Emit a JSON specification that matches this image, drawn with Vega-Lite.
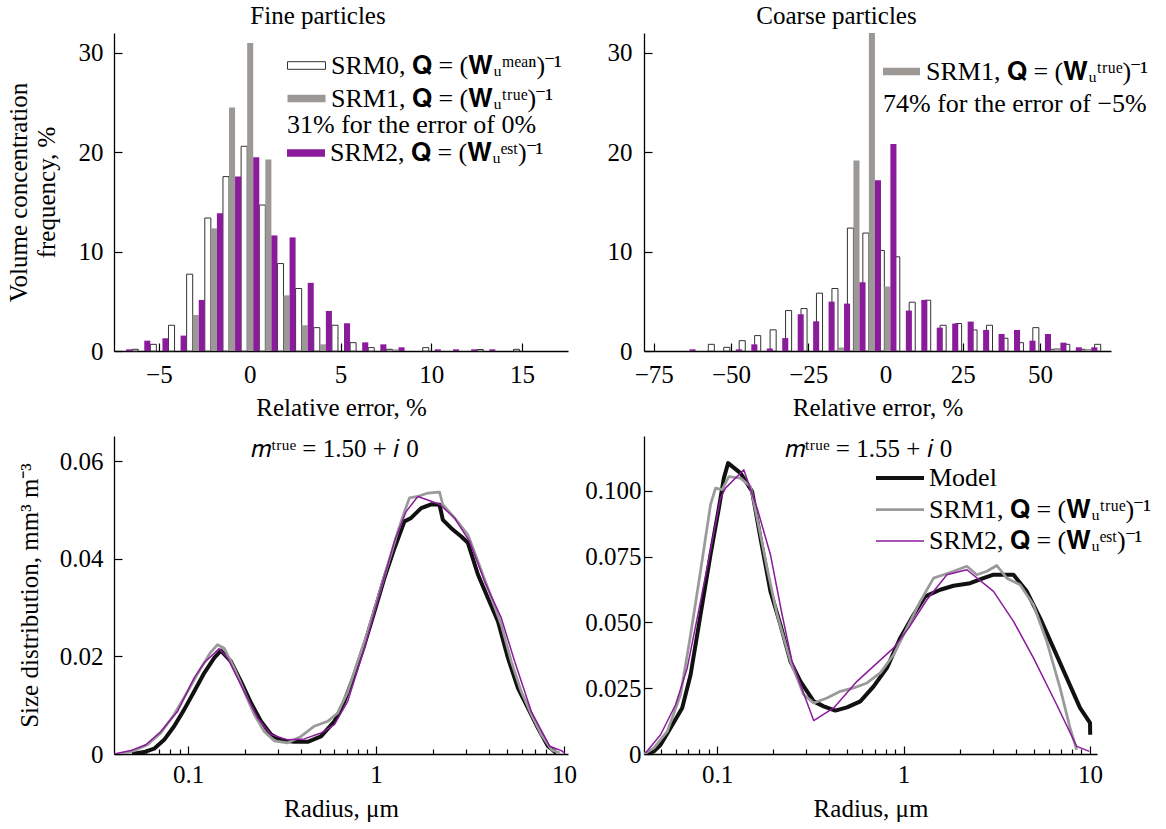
{
  "$schema": "https://vega.github.io/schema/vega-lite/v6.json",
  "background": "white",
  "padding": {"left": 6, "top": 4, "right": 5, "bottom": 5},
  "config": {
    "font": "Liberation Serif",
    "view": {"stroke": null},
    "axis": {"grid": false, "domainColor": "#000000", "domainWidth": 1.3, "tickColor": "#000000", "tickWidth": 1.2, "labelColor": "#000000", "titleColor": "#000000", "labelFont": "Liberation Serif", "titleFont": "Liberation Serif", "labelFontSize": 25, "titleFontSize": 25, "titleFontWeight": "normal", "labelAngle": 0, "labelOverlap": false},
    "legend": {"labelFont": "Liberation Serif", "labelFontSize": 26, "titleFont": "Liberation Serif", "titleFontSize": 26, "titleFontWeight": "normal", "labelColor": "#000000", "titleColor": "#000000", "padding": 0, "labelLimit": 500, "titleLimit": 500},
    "title": {"font": "Liberation Serif", "fontSize": 25, "fontWeight": "normal", "color": "#000000"}
  },
  "datasets": {
    "fine": [
      {"err": -6, "series": "SRM0", "freq": 0.17}, {"err": -5, "series": "SRM0", "freq": 0.67}, {"err": -4, "series": "SRM0", "freq": 2.59}, {"err": -3, "series": "SRM0", "freq": 7.73}, {"err": -2, "series": "SRM0", "freq": 13.38}, {"err": -1, "series": "SRM0", "freq": 17.55}, {"err": 0, "series": "SRM0", "freq": 20.6}, {"err": 1, "series": "SRM0", "freq": 14.69}, {"err": 2, "series": "SRM0", "freq": 8.8}, {"err": 3, "series": "SRM0", "freq": 6.29}, {"err": 4, "series": "SRM0", "freq": 2.35}, {"err": 5, "series": "SRM0", "freq": 2.59}, {"err": 6, "series": "SRM0", "freq": 0.84}, {"err": 7, "series": "SRM0", "freq": 0.34}, {"err": 8, "series": "SRM0", "freq": 0.17}, {"err": 10, "series": "SRM0", "freq": 0.34}, {"err": 13, "series": "SRM0", "freq": 0.15}, {"err": 15, "series": "SRM0", "freq": 0.17},
      {"err": -3, "series": "SRM1", "freq": 3.63}, {"err": -2, "series": "SRM1", "freq": 12.34}, {"err": -1, "series": "SRM1", "freq": 24.5}, {"err": 0, "series": "SRM1", "freq": 31.0}, {"err": 1, "series": "SRM1", "freq": 19.26}, {"err": 2, "series": "SRM1", "freq": 5.6}, {"err": 3, "series": "SRM1", "freq": 2.59}, {"err": 4, "series": "SRM1", "freq": 0.67}, {"err": 8, "series": "SRM1", "freq": 0.17},
      {"err": -7, "series": "SRM2", "freq": 0.17}, {"err": -6, "series": "SRM2", "freq": 1.04}, {"err": -5, "series": "SRM2", "freq": 1.28}, {"err": -4, "series": "SRM2", "freq": 1.55}, {"err": -3, "series": "SRM2", "freq": 5.14}, {"err": -2, "series": "SRM2", "freq": 13.85}, {"err": -1, "series": "SRM2", "freq": 17.55}, {"err": 0, "series": "SRM2", "freq": 19.5}, {"err": 1, "series": "SRM2", "freq": 11.63}, {"err": 2, "series": "SRM2", "freq": 11.43}, {"err": 3, "series": "SRM2", "freq": 6.86}, {"err": 4, "series": "SRM2", "freq": 4.03}, {"err": 5, "series": "SRM2", "freq": 2.79}, {"err": 6, "series": "SRM2", "freq": 0.87}, {"err": 7, "series": "SRM2", "freq": 0.67}, {"err": 8, "series": "SRM2", "freq": 0.37}, {"err": 10, "series": "SRM2", "freq": 0.17}, {"err": 11, "series": "SRM2", "freq": 0.17}, {"err": 12, "series": "SRM2", "freq": 0.17}, {"err": 13, "series": "SRM2", "freq": 0.17}
    ],
    "coarse": [
      {"err": -55, "series": "SRM0", "freq": 0.67}, {"err": -50, "series": "SRM0", "freq": 0.37}, {"err": -45, "series": "SRM0", "freq": 1.04}, {"err": -40, "series": "SRM0", "freq": 1.55}, {"err": -35, "series": "SRM0", "freq": 2.13}, {"err": -30, "series": "SRM0", "freq": 4.07}, {"err": -25, "series": "SRM0", "freq": 4.27}, {"err": -20, "series": "SRM0", "freq": 5.82}, {"err": -15, "series": "SRM0", "freq": 6.29}, {"err": -10, "series": "SRM0", "freq": 12.37}, {"err": -5, "series": "SRM0", "freq": 11.87}, {"err": 0, "series": "SRM0", "freq": 10.12}, {"err": 5, "series": "SRM0", "freq": 9.48}, {"err": 10, "series": "SRM0", "freq": 4.91}, {"err": 15, "series": "SRM0", "freq": 5.11}, {"err": 20, "series": "SRM0", "freq": 2.59}, {"err": 25, "series": "SRM0", "freq": 2.76}, {"err": 30, "series": "SRM0", "freq": 2.12}, {"err": 35, "series": "SRM0", "freq": 2.59}, {"err": 40, "series": "SRM0", "freq": 1.28}, {"err": 45, "series": "SRM0", "freq": 0.84}, {"err": 50, "series": "SRM0", "freq": 2.35}, {"err": 55, "series": "SRM0", "freq": 0.17}, {"err": 60, "series": "SRM0", "freq": 0.67}, {"err": 65, "series": "SRM0", "freq": 0.17}, {"err": 70, "series": "SRM0", "freq": 0.67},
      {"err": -15, "series": "SRM1", "freq": 0.35}, {"err": -10, "series": "SRM1", "freq": 19.16}, {"err": -5, "series": "SRM1", "freq": 74}, {"err": 0, "series": "SRM1", "freq": 6.49}, {"err": 55, "series": "SRM1", "freq": 0.3}, {"err": 65, "series": "SRM1", "freq": 0.2},
      {"err": -65, "series": "SRM2", "freq": 0.17}, {"err": -50, "series": "SRM2", "freq": 0.17}, {"err": -45, "series": "SRM2", "freq": 0.67}, {"err": -40, "series": "SRM2", "freq": 0.25}, {"err": -35, "series": "SRM2", "freq": 1.3}, {"err": -30, "series": "SRM2", "freq": 3.7}, {"err": -25, "series": "SRM2", "freq": 2.99}, {"err": -20, "series": "SRM2", "freq": 4.97}, {"err": -15, "series": "SRM2", "freq": 4.77}, {"err": -10, "series": "SRM2", "freq": 6.92}, {"err": -5, "series": "SRM2", "freq": 17.18}, {"err": 0, "series": "SRM2", "freq": 20.84}, {"err": 5, "series": "SRM2", "freq": 4.07}, {"err": 10, "series": "SRM2", "freq": 5.14}, {"err": 15, "series": "SRM2", "freq": 2.35}, {"err": 20, "series": "SRM2", "freq": 2.76}, {"err": 25, "series": "SRM2", "freq": 2.96}, {"err": 30, "series": "SRM2", "freq": 2.12}, {"err": 35, "series": "SRM2", "freq": 1.71}, {"err": 40, "series": "SRM2", "freq": 2.12}, {"err": 45, "series": "SRM2", "freq": 1.04}, {"err": 50, "series": "SRM2", "freq": 1.71}, {"err": 55, "series": "SRM2", "freq": 0.84}, {"err": 60, "series": "SRM2", "freq": 0.37}, {"err": 65, "series": "SRM2", "freq": 0.37}
    ],
    "psd_fine": [
      {"series": "Model", "r": 0.0505, "v": 0}, {"series": "Model", "r": 0.0583, "v": 0.0004}, {"series": "Model", "r": 0.0659, "v": 0.0011}, {"series": "Model", "r": 0.0745, "v": 0.0029}, {"series": "Model", "r": 0.0842, "v": 0.0057}, {"series": "Model", "r": 0.0952, "v": 0.0091}, {"series": "Model", "r": 0.1076, "v": 0.0128}, {"series": "Model", "r": 0.1217, "v": 0.0166}, {"series": "Model", "r": 0.1376, "v": 0.0197}, {"series": "Model", "r": 0.1493, "v": 0.0212}, {"series": "Model", "r": 0.1688, "v": 0.019}, {"series": "Model", "r": 0.1909, "v": 0.0149}, {"series": "Model", "r": 0.2158, "v": 0.0105}, {"series": "Model", "r": 0.2439, "v": 0.0067}, {"series": "Model", "r": 0.2758, "v": 0.004}, {"series": "Model", "r": 0.3118, "v": 0.0028}, {"series": "Model", "r": 0.3671, "v": 0.0025}, {"series": "Model", "r": 0.4324, "v": 0.0025}, {"series": "Model", "r": 0.5092, "v": 0.0036}, {"series": "Model", "r": 0.5998, "v": 0.0067}, {"series": "Model", "r": 0.678, "v": 0.0108}, {"series": "Model", "r": 0.7666, "v": 0.0163}, {"series": "Model", "r": 0.8666, "v": 0.0224}, {"series": "Model", "r": 0.9797, "v": 0.0292}, {"series": "Model", "r": 1.1075, "v": 0.0361}, {"series": "Model", "r": 1.2522, "v": 0.0422}, {"series": "Model", "r": 1.4158, "v": 0.0477}, {"series": "Model", "r": 1.5363, "v": 0.0484}, {"series": "Model", "r": 1.7371, "v": 0.0504}, {"series": "Model", "r": 1.9638, "v": 0.0512}, {"series": "Model", "r": 2.1755, "v": 0.0511}, {"series": "Model", "r": 2.2661, "v": 0.048}, {"series": "Model", "r": 2.5096, "v": 0.0463}, {"series": "Model", "r": 2.8379, "v": 0.0446}, {"series": "Model", "r": 3.079, "v": 0.0433}, {"series": "Model", "r": 3.4814, "v": 0.0368}, {"series": "Model", "r": 3.9355, "v": 0.032}, {"series": "Model", "r": 4.449, "v": 0.0272}, {"series": "Model", "r": 5.0303, "v": 0.0197}, {"series": "Model", "r": 5.687, "v": 0.0135}, {"series": "Model", "r": 6.4302, "v": 0.0094}, {"series": "Model", "r": 7.268, "v": 0.0053}, {"series": "Model", "r": 8.2168, "v": 0.0016}, {"series": "Model", "r": 9.1015, "v": 0.0002},
      {"series": "SRM1", "r": 0.0438, "v": 0}, {"series": "SRM1", "r": 0.0516, "v": 0.0007}, {"series": "SRM1", "r": 0.0607, "v": 0.0019}, {"series": "SRM1", "r": 0.0715, "v": 0.0043}, {"series": "SRM1", "r": 0.0842, "v": 0.0081}, {"series": "SRM1", "r": 0.0992, "v": 0.0128}, {"series": "SRM1", "r": 0.1168, "v": 0.0176}, {"series": "SRM1", "r": 0.132, "v": 0.0209}, {"series": "SRM1", "r": 0.1433, "v": 0.0224}, {"series": "SRM1", "r": 0.1555, "v": 0.0217}, {"series": "SRM1", "r": 0.1758, "v": 0.0176}, {"series": "SRM1", "r": 0.1988, "v": 0.0128}, {"series": "SRM1", "r": 0.2247, "v": 0.0081}, {"series": "SRM1", "r": 0.2541, "v": 0.0046}, {"series": "SRM1", "r": 0.2872, "v": 0.0027}, {"series": "SRM1", "r": 0.3383, "v": 0.0023}, {"series": "SRM1", "r": 0.3985, "v": 0.0036}, {"series": "SRM1", "r": 0.4692, "v": 0.0057}, {"series": "SRM1", "r": 0.5527, "v": 0.0067}, {"series": "SRM1", "r": 0.6248, "v": 0.0084}, {"series": "SRM1", "r": 0.7063, "v": 0.0128}, {"series": "SRM1", "r": 0.7986, "v": 0.019}, {"series": "SRM1", "r": 0.9029, "v": 0.0251}, {"series": "SRM1", "r": 1.0207, "v": 0.032}, {"series": "SRM1", "r": 1.1539, "v": 0.0388}, {"series": "SRM1", "r": 1.3045, "v": 0.0456}, {"series": "SRM1", "r": 1.4158, "v": 0.0497}, {"series": "SRM1", "r": 1.5053, "v": 0.0525}, {"series": "SRM1", "r": 1.6672, "v": 0.0528}, {"series": "SRM1", "r": 1.8849, "v": 0.0535}, {"series": "SRM1", "r": 2.1755, "v": 0.0537}, {"series": "SRM1", "r": 2.2661, "v": 0.0511}, {"series": "SRM1", "r": 2.6148, "v": 0.0484}, {"series": "SRM1", "r": 3.079, "v": 0.045}, {"series": "SRM1", "r": 3.4814, "v": 0.0395}, {"series": "SRM1", "r": 3.9355, "v": 0.034}, {"series": "SRM1", "r": 4.6361, "v": 0.0265}, {"series": "SRM1", "r": 5.2408, "v": 0.019}, {"series": "SRM1", "r": 5.9238, "v": 0.0128}, {"series": "SRM1", "r": 6.6977, "v": 0.0081}, {"series": "SRM1", "r": 7.5716, "v": 0.004}, {"series": "SRM1", "r": 8.5607, "v": 0.0009}, {"series": "SRM1", "r": 9.4823, "v": 0.0002},
      {"series": "SRM2", "r": 0.0403, "v": 0}, {"series": "SRM2", "r": 0.0495, "v": 0.0007}, {"series": "SRM2", "r": 0.0595, "v": 0.0019}, {"series": "SRM2", "r": 0.0715, "v": 0.0046}, {"series": "SRM2", "r": 0.0877, "v": 0.0087}, {"series": "SRM2", "r": 0.1076, "v": 0.0156}, {"series": "SRM2", "r": 0.1217, "v": 0.0187}, {"series": "SRM2", "r": 0.1463, "v": 0.0216}, {"series": "SRM2", "r": 0.1621, "v": 0.0197}, {"series": "SRM2", "r": 0.1988, "v": 0.0128}, {"series": "SRM2", "r": 0.2341, "v": 0.0074}, {"series": "SRM2", "r": 0.2758, "v": 0.004}, {"series": "SRM2", "r": 0.3383, "v": 0.0029}, {"series": "SRM2", "r": 0.415, "v": 0.0031}, {"series": "SRM2", "r": 0.5092, "v": 0.0043}, {"series": "SRM2", "r": 0.5998, "v": 0.006}, {"series": "SRM2", "r": 0.7063, "v": 0.0108}, {"series": "SRM2", "r": 0.8666, "v": 0.0217}, {"series": "SRM2", "r": 1.0632, "v": 0.034}, {"series": "SRM2", "r": 1.2522, "v": 0.0436}, {"series": "SRM2", "r": 1.4451, "v": 0.0497}, {"series": "SRM2", "r": 1.6672, "v": 0.0528}, {"series": "SRM2", "r": 2.1755, "v": 0.0512}, {"series": "SRM2", "r": 2.6148, "v": 0.0484}, {"series": "SRM2", "r": 3.142, "v": 0.0436}, {"series": "SRM2", "r": 3.7776, "v": 0.0354}, {"series": "SRM2", "r": 4.6361, "v": 0.0279}, {"series": "SRM2", "r": 5.4591, "v": 0.019}, {"series": "SRM2", "r": 6.6977, "v": 0.0087}, {"series": "SRM2", "r": 8.3861, "v": 0.0016}, {"series": "SRM2", "r": 9.6784, "v": 0.0007}, {"series": "SRM2", "r": 10.1, "v": 0.0002}
    ],
    "psd_coarse": [
      {"series": "Model", "r": 0.0422, "v": 0}, {"series": "Model", "r": 0.0458, "v": 0.001}, {"series": "Model", "r": 0.0497, "v": 0.0035}, {"series": "Model", "r": 0.0562, "v": 0.0099}, {"series": "Model", "r": 0.0649, "v": 0.0175}, {"series": "Model", "r": 0.072, "v": 0.0301}, {"series": "Model", "r": 0.0814, "v": 0.0529}, {"series": "Model", "r": 0.0921, "v": 0.0757}, {"series": "Model", "r": 0.1021, "v": 0.0934}, {"series": "Model", "r": 0.1086, "v": 0.1048}, {"series": "Model", "r": 0.1145, "v": 0.1105}, {"series": "Model", "r": 0.1334, "v": 0.1067}, {"series": "Model", "r": 0.154, "v": 0.0997}, {"series": "Model", "r": 0.1707, "v": 0.082}, {"series": "Model", "r": 0.1931, "v": 0.0618}, {"series": "Model", "r": 0.2184, "v": 0.0491}, {"series": "Model", "r": 0.2471, "v": 0.0352}, {"series": "Model", "r": 0.2796, "v": 0.0276}, {"series": "Model", "r": 0.3295, "v": 0.02}, {"series": "Model", "r": 0.3727, "v": 0.0181}, {"series": "Model", "r": 0.4305, "v": 0.0165}, {"series": "Model", "r": 0.497, "v": 0.0177}, {"series": "Model", "r": 0.5858, "v": 0.02}, {"series": "Model", "r": 0.6907, "v": 0.0257}, {"series": "Model", "r": 0.8142, "v": 0.0327}, {"series": "Model", "r": 0.9597, "v": 0.0441}, {"series": "Model", "r": 1.1314, "v": 0.0529}, {"series": "Model", "r": 1.3066, "v": 0.0599}, {"series": "Model", "r": 1.5719, "v": 0.0624}, {"series": "Model", "r": 1.853, "v": 0.0639}, {"series": "Model", "r": 2.2758, "v": 0.0649}, {"series": "Model", "r": 2.6827, "v": 0.0668}, {"series": "Model", "r": 3.0349, "v": 0.0681}, {"series": "Model", "r": 3.8857, "v": 0.0681}, {"series": "Model", "r": 4.5781, "v": 0.0618}, {"series": "Model", "r": 5.3959, "v": 0.0516}, {"series": "Model", "r": 6.3611, "v": 0.0403}, {"series": "Model", "r": 7.4989, "v": 0.0289}, {"series": "Model", "r": 8.8388, "v": 0.0175}, {"series": "Model", "r": 10.0, "v": 0.0118}, {"series": "Model", "r": 10.02, "v": 0.0073},
      {"series": "SRM1", "r": 0.0405, "v": 0}, {"series": "SRM1", "r": 0.0458, "v": 0.0023}, {"series": "SRM1", "r": 0.054, "v": 0.0086}, {"series": "SRM1", "r": 0.0636, "v": 0.0225}, {"series": "SRM1", "r": 0.072, "v": 0.0453}, {"series": "SRM1", "r": 0.0814, "v": 0.0694}, {"series": "SRM1", "r": 0.0921, "v": 0.0947}, {"series": "SRM1", "r": 0.098, "v": 0.101}, {"series": "SRM1", "r": 0.1063, "v": 0.1004}, {"series": "SRM1", "r": 0.1155, "v": 0.1054}, {"series": "SRM1", "r": 0.1334, "v": 0.1048}, {"series": "SRM1", "r": 0.1509, "v": 0.1016}, {"series": "SRM1", "r": 0.1638, "v": 0.0896}, {"series": "SRM1", "r": 0.1853, "v": 0.0706}, {"series": "SRM1", "r": 0.2097, "v": 0.0529}, {"series": "SRM1", "r": 0.2471, "v": 0.0352}, {"series": "SRM1", "r": 0.2912, "v": 0.0225}, {"series": "SRM1", "r": 0.3295, "v": 0.0194}, {"series": "SRM1", "r": 0.3884, "v": 0.0213}, {"series": "SRM1", "r": 0.4577, "v": 0.0238}, {"series": "SRM1", "r": 0.5397, "v": 0.0251}, {"series": "SRM1", "r": 0.6362, "v": 0.027}, {"series": "SRM1", "r": 0.7499, "v": 0.0308}, {"series": "SRM1", "r": 0.8841, "v": 0.0377}, {"series": "SRM1", "r": 1.042, "v": 0.0478}, {"series": "SRM1", "r": 1.2283, "v": 0.058}, {"series": "SRM1", "r": 1.4478, "v": 0.0668}, {"series": "SRM1", "r": 1.6379, "v": 0.0681}, {"series": "SRM1", "r": 1.853, "v": 0.0694}, {"series": "SRM1", "r": 2.1842, "v": 0.0713}, {"series": "SRM1", "r": 2.4714, "v": 0.0681}, {"series": "SRM1", "r": 2.7955, "v": 0.0694}, {"series": "SRM1", "r": 3.1623, "v": 0.0716}, {"series": "SRM1", "r": 3.5778, "v": 0.0668}, {"series": "SRM1", "r": 4.217, "v": 0.0643}, {"series": "SRM1", "r": 4.9704, "v": 0.0567}, {"series": "SRM1", "r": 5.8607, "v": 0.0428}, {"series": "SRM1", "r": 6.9072, "v": 0.0251}, {"series": "SRM1", "r": 7.8144, "v": 0.0099}, {"series": "SRM1", "r": 8.4834, "v": 0.0016},
      {"series": "SRM2", "r": 0.0413, "v": 0.0004}, {"series": "SRM2", "r": 0.0497, "v": 0.0073}, {"series": "SRM2", "r": 0.0598, "v": 0.0187}, {"series": "SRM2", "r": 0.0691, "v": 0.0327}, {"series": "SRM2", "r": 0.0814, "v": 0.058}, {"series": "SRM2", "r": 0.094, "v": 0.0808}, {"series": "SRM2", "r": 0.1042, "v": 0.0972}, {"series": "SRM2", "r": 0.1108, "v": 0.101}, {"series": "SRM2", "r": 0.1389, "v": 0.108}, {"series": "SRM2", "r": 0.1638, "v": 0.0934}, {"series": "SRM2", "r": 0.1931, "v": 0.0757}, {"series": "SRM2", "r": 0.223, "v": 0.0529}, {"series": "SRM2", "r": 0.2522, "v": 0.0352}, {"series": "SRM2", "r": 0.2796, "v": 0.0263}, {"series": "SRM2", "r": 0.3295, "v": 0.0127}, {"series": "SRM2", "r": 0.4217, "v": 0.0175}, {"series": "SRM2", "r": 0.5623, "v": 0.0276}, {"series": "SRM2", "r": 0.8841, "v": 0.0403}, {"series": "SRM2", "r": 1.0636, "v": 0.0478}, {"series": "SRM2", "r": 1.3335, "v": 0.0586}, {"series": "SRM2", "r": 1.7068, "v": 0.0681}, {"series": "SRM2", "r": 2.1842, "v": 0.07}, {"series": "SRM2", "r": 3.0349, "v": 0.0618}, {"series": "SRM2", "r": 3.8857, "v": 0.0504}, {"series": "SRM2", "r": 4.9704, "v": 0.0365}, {"series": "SRM2", "r": 6.628, "v": 0.0187}, {"series": "SRM2", "r": 8.4834, "v": 0.0029}, {"series": "SRM2", "r": 9.9184, "v": 0.001}
    ]
  },
  "columns": 2,
  "spacing": {"row": 85, "column": 76},
  "bounds": "flush",
  "resolve": {"scale": {"fill": "independent", "stroke": "independent", "color": "independent", "strokeWidth": "independent"}},
  "concat": [
    {
      "width": 454, "height": 318,
      "title": {"text": "Fine particles", "offset": -16, "baseline": "alphabetic", "frame": "group", "anchor": "middle", "dx": -23},
      "data": {"name": "fine"},
      "encoding": {
        "x": {"field": "err", "type": "ordinal", "scale": {"domain": [-7,-6,-5,-4,-3,-2,-1,0,1,2,3,4,5,6,7,8,9,10,11,12,13,14,15,16,17], "paddingInner": 0, "paddingOuter": 0},
          "axis": {"title": "Relative error, %", "values": [-5,0,5,10,15], "labelExpr": "datum.value < 0 ? '−' + abs(datum.value) : '' + datum.value", "labelFont": "Liberation Serif", "labelFontSize": 25, "tickSize": -8, "labelPadding": 19, "titlePadding": 8}},
        "xOffset": {"field": "series", "type": "nominal", "scale": {"domain": ["SRM0","SRM1","SRM2"], "paddingInner": 0, "paddingOuter": 0}},
        "y": {"field": "freq", "type": "quantitative", "scale": {"domain": [0, 32], "nice": false},
          "axis": {"title": ["Volume concentration", "frequency, %"], "values": [0,10,20,30], "labelFont": "Liberation Serif", "labelFontSize": 25, "tickSize": -8, "labelPadding": 19, "titlePadding": 19, "titleLineHeight": 28}}
      },
      "layer": [
        {
          "transform": [{"filter": {"field": "series", "oneOf": ["SRM0", "SRM1"]}}],
          "mark": {"type": "bar", "strokeWidth": 1},
          "encoding": {
            "fill": {"field": "series", "type": "nominal", "scale": {"domain": ["SRM0","SRM1"], "range": ["#ffffff", "#9b9895"]},
              "legend": {"orient": "none", "legendX": 173, "legendY": 13, "title": "31% for the error of 0%", "titleOrient": "bottom", "titleAnchor": "start", "titlePadding": 0, "rowPadding": -4, "labelOffset": 5, "symbolType": "M-1,-0.2H1V0.2H-1Z", "symbolSize": 1444, "symbolStrokeWidth": 1,
                "labelExpr": "datum.label == 'SRM0' ? 'SRM0, 𝐐 = (𝐖ᵤᵐᵉᵃⁿ)⁻¹' : 'SRM1, 𝐐 = (𝐖ᵤᵗʳᵘᵉ)⁻¹'"}},
            "stroke": {"field": "series", "type": "nominal", "scale": {"domain": ["SRM0","SRM1"], "range": ["#333333", "transparent"]}}
          }
        },
        {
          "transform": [{"filter": {"field": "series", "equal": "SRM2"}}],
          "mark": {"type": "bar"},
          "encoding": {
            "fill": {"field": "series", "type": "nominal", "scale": {"domain": ["SRM2"], "range": ["#8a1b9b"]},
              "legend": {"orient": "none", "legendX": 173, "legendY": 101, "title": null, "labelOffset": 5, "symbolType": "M-1,-0.2H1V0.2H-1Z", "symbolSize": 1444, "symbolStrokeWidth": 0,
                "labelExpr": "'SRM2, 𝐐 = (𝐖ᵤᵉˢᵗ)⁻¹'"}}
          }
        }
      ],
      "resolve": {"scale": {"fill": "independent", "stroke": "independent"}}
    },
    {
      "width": 467, "height": 318,
      "title": {"text": "Coarse particles", "offset": -16, "baseline": "alphabetic", "frame": "group", "anchor": "middle", "dx": -41},
      "data": {"name": "coarse"},
      "mark": {"type": "bar", "clip": true, "strokeWidth": 1},
      "encoding": {
        "x": {"field": "err", "type": "ordinal", "scale": {"domain": [-75,-70,-65,-60,-55,-50,-45,-40,-35,-30,-25,-20,-15,-10,-5,0,5,10,15,20,25,30,35,40,45,50,55,60,65,70], "paddingInner": 0, "paddingOuter": 0.11, "align": 0.73},
          "axis": {"title": "Relative error, %", "values": [-75,-50,-25,0,25,50], "labelExpr": "datum.value < 0 ? '−' + abs(datum.value) : '' + datum.value", "labelFont": "Liberation Serif", "labelFontSize": 25, "tickSize": -8, "labelPadding": 19, "titlePadding": 8}},
        "xOffset": {"field": "series", "type": "nominal", "scale": {"domain": ["SRM0","SRM1","SRM2"], "paddingInner": 0, "paddingOuter": 0}},
        "y": {"field": "freq", "type": "quantitative", "scale": {"domain": [0, 32], "nice": false},
          "axis": {"title": null, "values": [0,10,20,30], "labelFont": "Liberation Serif", "labelFontSize": 25, "tickSize": -8, "labelPadding": 20}},
        "fill": {"field": "series", "type": "nominal", "scale": {"domain": ["SRM0","SRM1","SRM2"], "range": ["#ffffff", "#9b9895", "#8a1b9b"]},
          "legend": {"orient": "none", "legendX": 239, "legendY": 20, "values": ["SRM1"], "title": "74% for the error of −5%", "titleOrient": "bottom", "titleAnchor": "start", "titlePadding": 6, "labelOffset": 6, "symbolType": "M-1,-0.2H1V0.2H-1Z", "symbolSize": 1369, "symbolStrokeWidth": 0,
            "labelExpr": "'SRM1, 𝐐 = (𝐖ᵤᵗʳᵘᵉ)⁻¹'"}},
        "stroke": {"field": "series", "type": "nominal", "scale": {"domain": ["SRM0","SRM1","SRM2"], "range": ["#333333", "transparent", "transparent"]}}
      }
    },
    {
      "width": 454, "height": 318,
      "title": {"text": "𝑚ᵗʳᵘᵉ = 1.50 + 𝑖 0", "offset": -46, "baseline": "alphabetic", "frame": "group", "anchor": "middle", "dx": -6},
      "data": {"name": "psd_fine"},
      "mark": {"type": "line", "strokeJoin": "round", "clip": true},
      "encoding": {
        "x": {"field": "r", "type": "quantitative", "scale": {"type": "log", "domain": [0.0403, 10.5], "nice": false},
          "axis": {"title": "Radius, μm", "values": [0.05,0.06,0.07,0.08,0.09,0.1,0.2,0.3,0.4,0.5,0.6,0.7,0.8,0.9,1,2,3,4,5,6,7,8,9,10],
            "labelExpr": "datum.value == 0.1 ? '0.1' : datum.value == 1 ? '1' : datum.value == 10 ? '10' : ''", "labelFont": "Liberation Serif", "labelFontSize": 25,
            "tickSize": {"condition": {"test": "datum.value == 0.1 || datum.value == 1 || datum.value == 10", "value": -8}, "value": -5},
            "labelPadding": 16, "titlePadding": 6}},
        "y": {"field": "v", "type": "quantitative", "scale": {"domain": [0, 0.0652], "nice": false},
          "axis": {"title": "Size distribution, mm³ m⁻³", "values": [0, 0.02, 0.04, 0.06], "labelExpr": "datum.value == 0 ? '0' : format(datum.value, '.2f')", "labelFont": "Liberation Serif", "labelFontSize": 25, "tickSize": -8, "labelPadding": 19, "titlePadding": 17}},
        "color": {"field": "series", "type": "nominal", "scale": {"domain": ["Model","SRM1","SRM2"], "range": ["#111111", "#9a9a9a", "#8b1a9c"]}, "legend": null},
        "strokeWidth": {"field": "series", "type": "nominal", "scale": {"domain": ["Model","SRM1","SRM2"], "range": [4, 1.5], "padding": 0}, "legend": null}
      }
    },
    {
      "width": 453, "height": 318,
      "title": {"text": "𝑚ᵗʳᵘᵉ = 1.55 + 𝑖 0", "offset": -46, "baseline": "alphabetic", "frame": "group", "anchor": "middle", "dx": -2},
      "data": {"name": "psd_coarse"},
      "mark": {"type": "line", "strokeJoin": "round", "clip": true},
      "encoding": {
        "x": {"field": "r", "type": "quantitative", "scale": {"type": "log", "domain": [0.0405, 10.9], "nice": false},
          "axis": {"title": "Radius, μm", "values": [0.05,0.06,0.07,0.08,0.09,0.1,0.2,0.3,0.4,0.5,0.6,0.7,0.8,0.9,1,2,3,4,5,6,7,8,9,10],
            "labelExpr": "datum.value == 0.1 ? '0.1' : datum.value == 1 ? '1' : datum.value == 10 ? '10' : ''", "labelFont": "Liberation Serif", "labelFontSize": 25,
            "tickSize": {"condition": {"test": "datum.value == 0.1 || datum.value == 1 || datum.value == 10", "value": -8}, "value": -5},
            "labelPadding": 16, "titlePadding": 6}},
        "y": {"field": "v", "type": "quantitative", "scale": {"domain": [0, 0.1208], "nice": false},
          "axis": {"title": null, "values": [0, 0.025, 0.05, 0.075, 0.1], "labelExpr": "datum.value == 0 ? '0' : format(datum.value, '.3f')", "labelFont": "Liberation Serif", "labelFontSize": 25, "tickSize": -8, "labelPadding": 11}},
        "color": {"field": "series", "type": "nominal", "scale": {"domain": ["Model","SRM1","SRM2"], "range": ["#111111", "#9a9a9a", "#8b1a9c"]},
          "legend": {"orient": "none", "legendX": 242, "legendY": 28, "title": null, "rowPadding": 5, "labelOffset": 15, "symbolType": "M-2,0H2", "symbolSize": 576,
            "labelExpr": "datum.label == 'Model' ? 'Model' : datum.label == 'SRM1' ? 'SRM1, 𝐐 = (𝐖ᵤᵗʳᵘᵉ)⁻¹' : 'SRM2, 𝐐 = (𝐖ᵤᵉˢᵗ)⁻¹'"}},
        "strokeWidth": {"field": "series", "type": "nominal", "scale": {"domain": ["Model","SRM1","SRM2"], "range": [4, 1.5], "padding": 0}}
      }
    }
  ]
}
